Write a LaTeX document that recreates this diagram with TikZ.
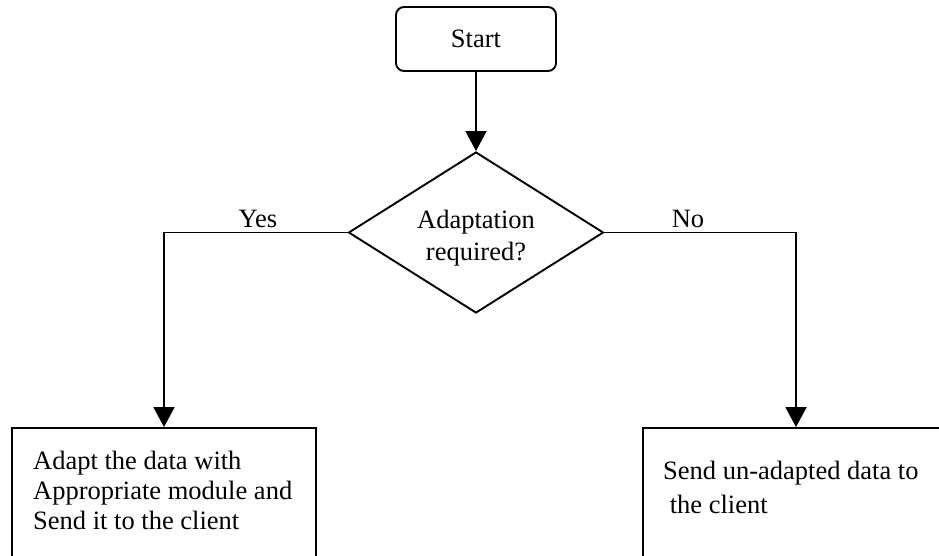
\documentclass[tikz,border=0pt]{standalone}
\usepackage{fontspec}
\setmainfont{Liberation Serif}
\usetikzlibrary{shapes.geometric,arrows.meta}
\begin{document}
\begin{tikzpicture}[x=1pt,y=-1pt,
  every node/.style={font=\fontsize{26.5}{30}\selectfont},
  line/.style={line width=1.9pt},
  flow/.style={line, -{Triangle[width=21pt,length=20pt]}},
  startbox/.style={draw, line width=1.9pt, rounded corners=8pt, minimum width=160pt, minimum height=64pt, inner sep=0pt},
  decision/.style={draw, line width=1.9pt, diamond, shape aspect=1.58, minimum width=255pt, minimum height=161pt, inner sep=0pt},
  actionbox/.style={draw, line width=1.9pt, rectangle, inner sep=0pt},
  boxtext/.style={anchor=north west, inner sep=0pt, align=left},
  plain text/.style={inner sep=0pt, align=center}
]
\useasboundingbox (0,0) rectangle (939,555);
\clip (0,0) rectangle (939,555);

% start and decision
\node[startbox] (start) at (476,39) {Start};
\node[decision] (dec) at (476,232.5) {};
\node[plain text, font=\fontsize{26.5}{32}\selectfont] (dectext) at (476,238) {Adaptation\\required?};

% action boxes (their lower parts run past the page edge)
\node[actionbox, minimum width=304pt, minimum height=180pt] (adapt) at (164,518) {};
\node[actionbox, minimum width=320pt, minimum height=180pt] (plain) at (803,518) {};

\node[boxtext] (adapttext) at (33,451) {Adapt the data with\\Appropriate module and\\Send it to the client};
\node[boxtext, font=\fontsize{26.5}{34}\selectfont] (plaintext) at (663,461) {Send un-adapted data to\\\ the client};

% branch labels
\node[plain text] (yes) at (258,219) {Yes};
\node[plain text] (no) at (688,219) {No};

% connectors
\draw[flow] (start.south) -- (dec.north);
\draw[flow] (dec.west) -| (adapt.north);
\draw[flow] (dec.east) -| (plain.north -| 796,0);
\end{tikzpicture}
\end{document}
